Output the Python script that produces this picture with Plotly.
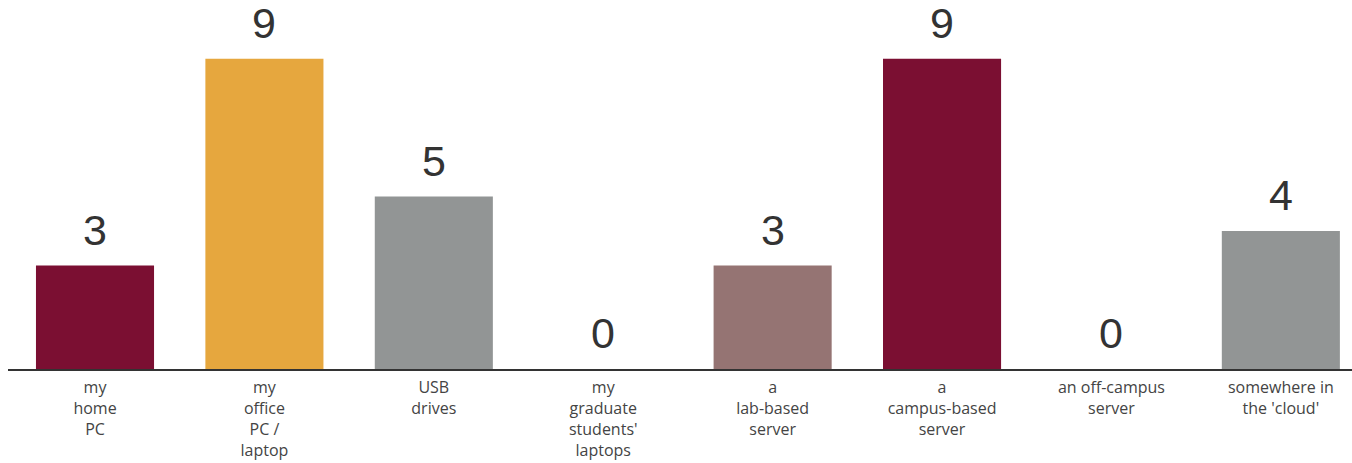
import plotly.graph_objects as go

# Where research data is stored (number of respondents)
categories = [
    "my<br>home<br>PC",
    "my<br>office<br>PC /<br>laptop",
    "USB<br>drives",
    "my<br>graduate<br>students'<br>laptops",
    "a<br>lab-based<br>server",
    "a<br>campus-based<br>server",
    "an off-campus<br>server",
    "somewhere in<br>the 'cloud'",
]
counts = [3, 9, 5, 0, 3, 9, 0, 4]
bar_colors = ["#7B0F32", "#E6A73E", "#929595", "#929595",
              "#957473", "#7B0F32", "#929595", "#929595"]

x_pos = list(range(len(categories)))

fig = go.Figure()
fig.add_trace(go.Bar(
    x=x_pos,
    y=counts,
    width=0.697,
    marker=dict(color=bar_colors, line=dict(width=0)),
    hoverinfo="skip",
))

# value labels above each bar
for xi, v in zip(x_pos, counts):
    fig.add_annotation(
        x=xi, y=v, text=str(v), showarrow=False,
        yanchor="bottom", yshift=10,
        font=dict(family="Liberation Sans, Arial, sans-serif", size=43, color="#333333"),
    )

fig.update_layout(
    width=1352, height=463,
    margin=dict(l=8, r=0, t=0, b=94),
    paper_bgcolor="white",
    plot_bgcolor="white",
    showlegend=False,
    xaxis=dict(
        range=[-0.5136, 7.42],
        tickmode="array",
        tickvals=x_pos,
        ticktext=categories,
        showgrid=False,
        zeroline=False,
        showline=True,
        linecolor="#333333",
        linewidth=2,
        ticks="",
        ticklabelstandoff=3,
        tickfont=dict(family="Open Sans, Noto Sans, sans-serif", size=16, color="#444444"),
    ),
    yaxis=dict(
        range=[0, 10.7],
        visible=False,
        showgrid=False,
        zeroline=False,
    ),
)

fig.write_html("out.html")
